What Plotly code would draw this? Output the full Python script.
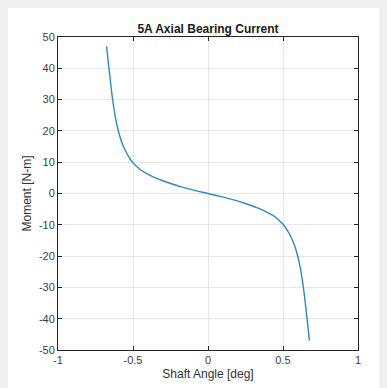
import plotly.graph_objects as go

# Data (left half read, right half mirrors it)
shaft_angle = [-0.676, -0.665, -0.652, -0.640, -0.625, -0.610, -0.595, -0.578, -0.560,
               -0.540, -0.520, -0.500, -0.475, -0.450, -0.420, -0.385, -0.350, -0.318,
               -0.250, -0.184, -0.090, 0.0,
               0.090, 0.184, 0.250, 0.318, 0.350, 0.385, 0.420, 0.450, 0.475, 0.500,
               0.520, 0.540, 0.560, 0.578, 0.595, 0.610, 0.625, 0.640, 0.652, 0.665, 0.676]
moment = [47.0, 42.0, 36.5, 31.5, 26.5, 22.5, 19.5, 16.8, 14.6,
          12.7, 11.1, 9.8, 8.6, 7.6, 6.7, 5.8, 5.0, 4.4,
          3.2, 2.2, 1.0, 0.0,
          -1.0, -2.2, -3.2, -4.4, -5.0, -5.8, -6.7, -7.6, -8.6, -9.8,
          -11.1, -12.7, -14.6, -16.8, -19.5, -22.5, -26.5, -31.5, -36.5, -42.0, -47.0]

x_ticks = [-1, -0.5, 0, 0.5, 1]
x_tick_labels = ["-1", "-0.5", "0", "0.5", "1"]
y_ticks = [-50, -40, -30, -20, -10, 0, 10, 20, 30, 40, 50]
y_tick_labels = ["-50", "-40", "-30", "-20", "-10", "0", "10", "20", "30", "40", "50"]

W, H = 387, 388
OFF = 8  # page body margin
L, T = 58 - OFF, 37 - OFF
R = W - (358 - OFF)
B = H - (350 - OFF)

fig = go.Figure()
fig.add_trace(go.Scatter(x=shaft_angle, y=moment, mode="lines",
                         line=dict(color="#3088c2", width=1.4, shape="spline", smoothing=1.0),
                         showlegend=False, hoverinfo="skip"))

axis_common = dict(showline=True, linecolor="#262626", linewidth=1, mirror="ticks",
                   ticks="inside", ticklen=4, tickcolor="#262626", showgrid=True,
                   gridcolor="#e6e6e6", gridwidth=1, zeroline=False,
                   tickfont=dict(family="Liberation Sans, Arial", size=11, color="#404040"))

fig.update_layout(
    width=W, height=H,
    margin=dict(l=L, r=R, t=T, b=B),
    paper_bgcolor="white", plot_bgcolor="white",
    title=dict(text="<b>5A Axial Bearing Current</b>", x=(L + (W - L - R) / 2) / W, xanchor="center",
               y=1 - (29 - OFF) / H, yanchor="middle",
               font=dict(family="Liberation Sans, Arial", size=12, color="#1a1a1a")),
    xaxis=dict(range=[-1, 1], tickvals=x_ticks, ticktext=x_tick_labels,
               title=dict(text="Shaft Angle [deg]", standoff=4,
                          font=dict(family="Liberation Sans, Arial", size=12, color="#333333")),
               **axis_common),
    yaxis=dict(range=[-50, 50], tickvals=y_ticks, ticktext=y_tick_labels,
               title=dict(text="Moment [N-m]", standoff=4,
                          font=dict(family="Liberation Sans, Arial", size=12, color="#333333")),
               **axis_common),
)

fig.write_html("out.html", post_script="document.body.style.background='#efefef';")
